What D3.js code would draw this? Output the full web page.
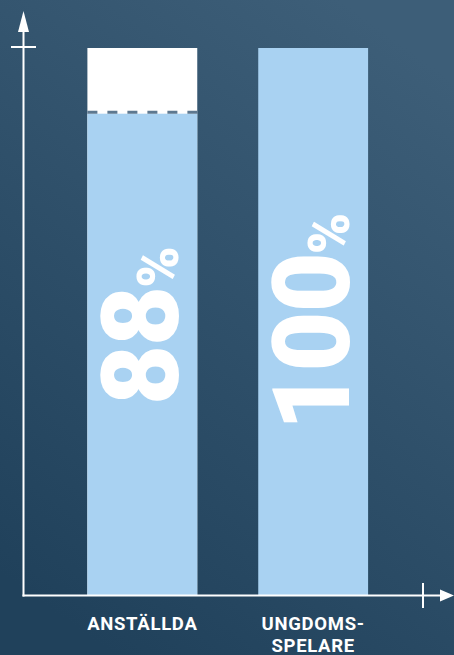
<!DOCTYPE html>
<html>
<head>
<meta charset="utf-8">
<script src="https://cdn.jsdelivr.net/npm/d3@7"></script>
<style>
  html, body { margin: 0; padding: 0; background: #2c4d68; }
  svg { display: block; }
</style>
</head>
<body>
<svg id="chart" width="454" height="655"></svg>
<script>
// Data
const categories = ["ANSTÄLLDA", "UNGDOMS-\nSPELARE"];
const values = [88, 100];
const maxValue = 100;
const valueLabels = ["88", "100"];

const W = 454, H = 655;
const svg = d3.select("#chart");

// Background gradient
const defs = svg.append("defs");
const grad = defs.append("linearGradient").attr("id", "bg")
  .attr("x1", "0.75").attr("y1", "0").attr("x2", "0.25").attr("y2", "1");
grad.append("stop").attr("offset", "0%").attr("stop-color", "#3d5e78");
grad.append("stop").attr("offset", "100%").attr("stop-color", "#20415b");
svg.append("rect").attr("width", W).attr("height", H).attr("fill", "url(#bg)");

// Scales
const originX = 23.5, originY = 595.5;
const x = d3.scaleBand().domain(categories).range([originX, 432])
  .paddingInner(0.357).paddingOuter(0.374);
const y = d3.scaleLinear().domain([0, maxValue]).range([originY, 48]);

const lightBlue = "#a9d2f2";

// Bars: full-height white background (for partial bars), then value bar
const bars = svg.append("g");
categories.forEach((c, i) => {
  const v = values[i];
  if (v < maxValue) {
    bars.append("rect")
      .attr("x", x(c)).attr("width", x.bandwidth())
      .attr("y", y(maxValue)).attr("height", y(0) - y(maxValue))
      .attr("fill", "#ffffff");
  }
  bars.append("rect")
    .attr("x", x(c)).attr("width", x.bandwidth())
    .attr("y", y(v)).attr("height", y(0) - y(v))
    .attr("fill", lightBlue);
  if (v < maxValue) {
    bars.append("line")
      .attr("x1", x(c)).attr("x2", x(c) + x.bandwidth())
      .attr("y1", y(v) - 1.5).attr("y2", y(v) - 1.5)
      .attr("stroke", "#5d7890").attr("stroke-width", 3)
      .attr("stroke-dasharray", "10,10");
  }
});

// Axes (custom arrows)
const axes = svg.append("g").attr("stroke", "#ffffff").attr("stroke-width", 2).attr("fill", "none");
axes.append("line").attr("x1", originX).attr("x2", originX).attr("y1", 30).attr("y2", originY + 1);
axes.append("line").attr("x1", originX - 1).attr("x2", 442).attr("y1", originY).attr("y2", originY);
// ticks
axes.append("line").attr("x1", 11).attr("x2", 36).attr("y1", y(maxValue) - 1).attr("y2", y(maxValue) - 1);
axes.append("line").attr("x1", 423).attr("x2", 423).attr("y1", 583).attr("y2", 608);
// arrowheads
svg.append("path").attr("d", `M${originX},11 L${originX + 5.5},32 L${originX - 5.5},32 Z`).attr("fill", "#fff");
svg.append("path").attr("d", `M454,${originY} L440,${originY - 6} L440,${originY + 6} Z`).attr("fill", "#fff");

// Vertical value labels
categories.forEach((c, i) => {
  const bx = x(c) + x.bandwidth() - 19;
  const cy = y(maxValue / 2) + (values[i] < maxValue ? 4 : 0);
  const g = svg.append("g")
    .attr("transform", `translate(${bx},${cy}) rotate(-90) scale(0.96,1)`);
  const t = g.append("text")
    .attr("text-anchor", "middle")
    .attr("fill", "#ffffff")
    .attr("font-family", "Roboto")
    .attr("font-weight", 900);
  t.append("tspan").attr("font-size", 108).attr("letter-spacing", -1).text(valueLabels[i]);
  t.append("tspan").attr("font-size", 58).attr("dx", -1).text("%");
});

// Category labels (one text element per line)
categories.forEach((c) => {
  const lines = c.split("\n");
  lines.forEach((l, j) => {
    svg.append("text")
      .attr("x", x(c) + x.bandwidth() / 2)
      .attr("y", 630 + j * 21.5)
      .attr("text-anchor", "middle")
      .attr("fill", "#ffffff")
      .attr("font-family", "Roboto")
      .attr("font-weight", 700)
      .attr("font-size", 18.5)
      .attr("letter-spacing", 0.7)
      .text(l);
  });
});
</script>
</body>
</html>
